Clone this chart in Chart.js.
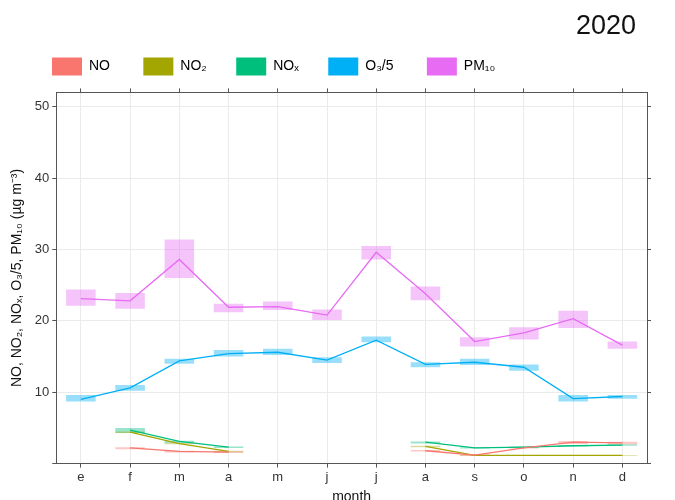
<!DOCTYPE html>
<html>
<head>
<meta charset="utf-8">
<script src="https://cdn.jsdelivr.net/npm/chart.js@4.4.1/dist/chart.umd.min.js"></script>
<style>
  html, body { margin: 0; padding: 0; background: #fff; overflow: hidden; }
  #chart { display: block; }
</style>
</head>
<body>
<canvas id="chart" width="675" height="506"></canvas>
<script>
// ====== Data ======
const months = ["e", "f", "m", "a", "m", "j", "j", "a", "s", "o", "n", "d"];

const pm10   = [23.1, 22.8, 28.6, 21.9, 22.0, 20.8, 29.6, 23.8, 17.1, 18.3, 20.3, 16.6];
const pm10Lo = [22.1, 21.7, 26.0, 21.2, 21.5, 20.1, 28.6, 22.9, 16.4, 17.4, 19.0, 16.1];
const pm10Hi = [24.4, 23.9, 31.4, 22.4, 22.7, 21.6, 30.5, 24.8, 17.7, 19.1, 21.4, 17.1];

const o3   = [9.0, 10.6, 14.4, 15.4, 15.6, 14.5, 17.3, 13.9, 14.2, 13.5, 9.1, 9.4];
const o3Lo = [8.7, 10.2, 14.0, 15.0, 15.2, 14.1, 17.0, 13.5, 13.8, 13.0, 8.7, 9.1];
const o3Hi = [9.6, 11.0, 14.7, 15.9, 16.1, 14.9, 17.8, 14.2, 14.7, 13.9, 9.6, 9.6];

const nox   = [null, 4.7, 3.1, 2.3, null, null, null, 3.0, 2.2, 2.3, 2.5, 2.6];
const noxLo = [null, 4.3, 2.9, 2.2, null, null, null, 2.8, 2.1, 2.2, 2.4, 2.5];
const noxHi = [null, 5.0, 3.2, 2.4, null, null, null, 3.1, 2.3, 2.4, 2.6, 2.7];

const no2   = [null, 4.4, 2.8, 1.7, null, null, null, 2.4, 1.15, 1.15, 1.15, 1.15];
const no2Lo = [null, 4.3, 2.7, 1.6, null, null, null, 2.3, 1.1, 1.1, 1.1, 1.1];
const no2Hi = [null, 4.5, 2.9, 1.8, null, null, null, 2.5, 1.2, 1.2, 1.2, 1.2];

const no   = [null, 2.2, 1.7, 1.6, null, null, null, 1.8, 1.2, 2.2, 3.0, 2.9];
const noLo = [null, 2.0, 1.55, 1.5, null, null, null, 1.7, 1.1, 2.1, 2.75, 2.7];
const noHi = [null, 2.3, 1.8, 1.7, null, null, null, 1.9, 1.3, 2.3, 3.15, 3.05];

const yTicks = [10, 20, 30, 40, 50];

// ====== Series setup ======
// trailing spaces keep the legend entries evenly spaced
const series = [
    { name: "NO      ",   color: "#F8766D", fill: "rgba(248,118,109,0.4)", mid: no,   lo: noLo,   hi: noHi },
    { name: "NO₂     ",   color: "#A3A500", fill: "rgba(163,165,0,0.4)",   mid: no2,  lo: no2Lo,  hi: no2Hi },
    { name: "NOₓ     ",   color: "#00BF7D", fill: "rgba(0,191,125,0.4)",   mid: nox,  lo: noxLo,  hi: noxHi },
    { name: "O₃/5      ", color: "#00B0F6", fill: "rgba(0,176,246,0.4)",   mid: o3,   lo: o3Lo,   hi: o3Hi },
    { name: "PM₁₀",       color: "#E76BF3", fill: "rgba(231,107,243,0.4)", mid: pm10, lo: pm10Lo, hi: pm10Hi },
];

const datasets = [];
series.forEach(s => {
    datasets.push({
        type: "bar",
        label: s.name + " box",
        data: s.lo.map((v, i) => (v == null ? null : [v, s.hi[i]])),
        backgroundColor: s.fill,
        borderWidth: 0,
        grouped: false,
        barPercentage: 0.6,
        categoryPercentage: 1,
        xAxisID: "x",
        yAxisID: "y",
        order: 2,
    });
    datasets.push({
        type: "line",
        label: s.name,
        data: s.mid,
        borderColor: s.color,
        backgroundColor: s.color,
        borderWidth: 1.3,
        pointRadius: 0,
        tension: 0,
        spanGaps: false,
        xAxisID: "x",
        yAxisID: "y",
        order: 1,
    });
});

// legend starts near the panel's left edge
const legendShift = {
    id: "legendShift",
    afterLayout(chart) {
        chart.legend.left = 42;
    },
};

const ctx = document.getElementById("chart");
const tickFont = { family: "Liberation Sans, Arial, sans-serif", size: 13 };
const gridColor = "#EBEBEB";
const frameColor = "#555";

new Chart(ctx, {
    data: { labels: months, datasets },
    plugins: [legendShift],
    options: {
        responsive: false,
        devicePixelRatio: 1,
        animation: false,
        layout: { padding: { top: 2, left: 9, right: 24, bottom: 0 } },
        plugins: {
            title: {
                display: true,
                text: "2020  ",
                align: "end",
                color: "#111",
                font: { family: "Liberation Sans, Arial, sans-serif", size: 27, weight: "normal" },
                padding: { top: 8, bottom: 5 },
            },
            legend: {
                position: "top",
                align: "start",
                onClick: null,
                labels: {
                    boxWidth: 30,
                    boxHeight: 18,
                    padding: 10,
                    color: "#111",
                    font: { family: "Liberation Sans, Arial, sans-serif", size: 14 },
                    generateLabels: () => series.map(s => ({
                        text: s.name,
                        fillStyle: s.color,
                        strokeStyle: s.color,
                        lineWidth: 0,
                        hidden: false,
                    })),
                },
            },
            tooltip: { enabled: false },
        },
        scales: {
            x: {
                type: "category",
                position: "bottom",
                offset: true,
                grid: { color: gridColor, tickColor: frameColor, tickLength: 4, offset: false },
                border: { color: frameColor, width: 1 },
                ticks: { color: "#333", font: tickFont, padding: 2 },
                title: {
                    display: true,
                    text: "month",
                    color: "#111",
                    font: { family: "Liberation Sans, Arial, sans-serif", size: 14 },
                    padding: { top: 2, bottom: 0 },
                },
            },
            xTop: {
                type: "category",
                position: "top",
                offset: true,
                grid: { drawOnChartArea: false, tickColor: frameColor, tickLength: 4, offset: false },
                border: { color: frameColor, width: 1 },
                ticks: { display: false },
                afterFit: axis => { axis.height += 3; },
            },
            y: {
                type: "linear",
                position: "left",
                min: 0,
                max: 52,
                afterBuildTicks: axis => { axis.ticks = [0, ...yTicks].map(v => ({ value: v })); },
                grid: { color: gridColor, tickColor: frameColor, tickLength: 4 },
                border: { color: frameColor, width: 1 },
                ticks: {
                    color: "#333",
                    font: tickFont,
                    padding: 3,
                    callback: v => (v === 0 ? "" : v),
                },
                title: {
                    display: true,
                    text: "NO, NO₂, NOₓ, O₃/5, PM₁₀ (µg m⁻³)",
                    color: "#111",
                    font: { family: "Liberation Sans, Arial, sans-serif", size: 14 },
                    padding: { top: 0, bottom: 6 },
                },
            },
            yRight: {
                type: "linear",
                position: "right",
                min: 0,
                max: 52,
                afterBuildTicks: axis => { axis.ticks = [0, ...yTicks].map(v => ({ value: v })); },
                grid: { drawOnChartArea: false, tickColor: frameColor, tickLength: 4 },
                border: { color: frameColor, width: 1 },
                ticks: { display: false },
            },
        },
    },
});
</script>
</body>
</html>
